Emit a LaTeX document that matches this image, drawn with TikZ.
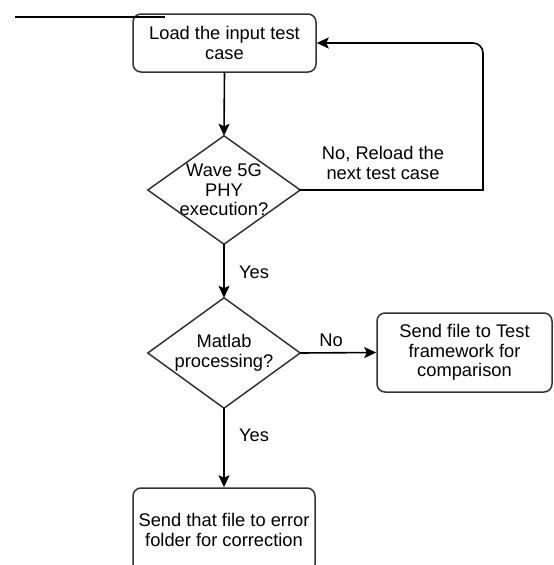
\documentclass[tikz,border=0pt]{standalone}
\usepackage{fontspec}
\setmainfont{Liberation Sans}
\usetikzlibrary{arrows.meta}
\begin{document}
\begin{tikzpicture}[x=1pt,y=-1pt,
  every node/.style={font=\fontsize{18.3}{19.5}\selectfont, text=black},
  procbox/.style={draw=black!80, line width=1.5pt, rounded corners=8pt, align=center, inner sep=0pt},
  decbox/.style={inner sep=0pt, align=center},
  decline/.style={draw=black!80, line width=1.5pt},
  conn/.style={draw=black, line width=1.6pt},
  arr/.style={conn, -{Stealth[length=12pt,width=11pt,inset=2.5pt]}},
  lbl/.style={inner sep=0pt, align=center}]
\useasboundingbox (0,0) rectangle (554,565);

% stray line
\coordinate (s1) at (15,17);
\coordinate (s2) at (165,17);

% boxes
\node[procbox, minimum width=183pt, minimum height=58pt] (b1) at (224.5,43) {Load the input test\\case};
\node[procbox, minimum width=175pt, minimum height=79pt] (b3) at (464.5,352.5) {Send file to Test\\framework for\\comparison};
\node[procbox, minimum width=182pt, minimum height=84pt] (b4) at (224,530) {Send that file to error\\folder for correction};

% decisions
\node[decbox, minimum width=152pt, minimum height=108pt] (d1) at (224,190) {Wave 5G\\PHY\\execution?};
\path[decline] (d1.north) -- (d1.east) -- (d1.south) -- (d1.west) -- cycle;
\node[decbox, minimum width=152pt, minimum height=110pt] (d2) at (224,353) {Matlab\\processing?};
\path[decline] (d2.north) -- (d2.east) -- (d2.south) -- (d2.west) -- cycle;

\draw[conn] (s1) -- (s2);

% connectors
\draw[arr] (b1.south) -- (d1.north);
\coordinate (c1) at (483,190);
\coordinate (c2) at (483,43);
\draw[conn, line cap=rect] (d1.east) -- (c1);
\draw[arr, rounded corners=10pt] (c1) -- (c2) -- (b1.east);
\node[lbl] (l1) at (383,163) {No, Reload the\\next test case};

\draw[arr] (d1.south) -- (d2.north);
\node[lbl] (l2) at (254,272) {Yes};

\draw[arr] (d2.east) -- (b3.west);
\node[lbl] (l3) at (331,340) {No};

\draw[arr] (d2.south) -- (b4.north);
\node[lbl] (l4) at (254,435) {Yes};
\end{tikzpicture}
\end{document}
